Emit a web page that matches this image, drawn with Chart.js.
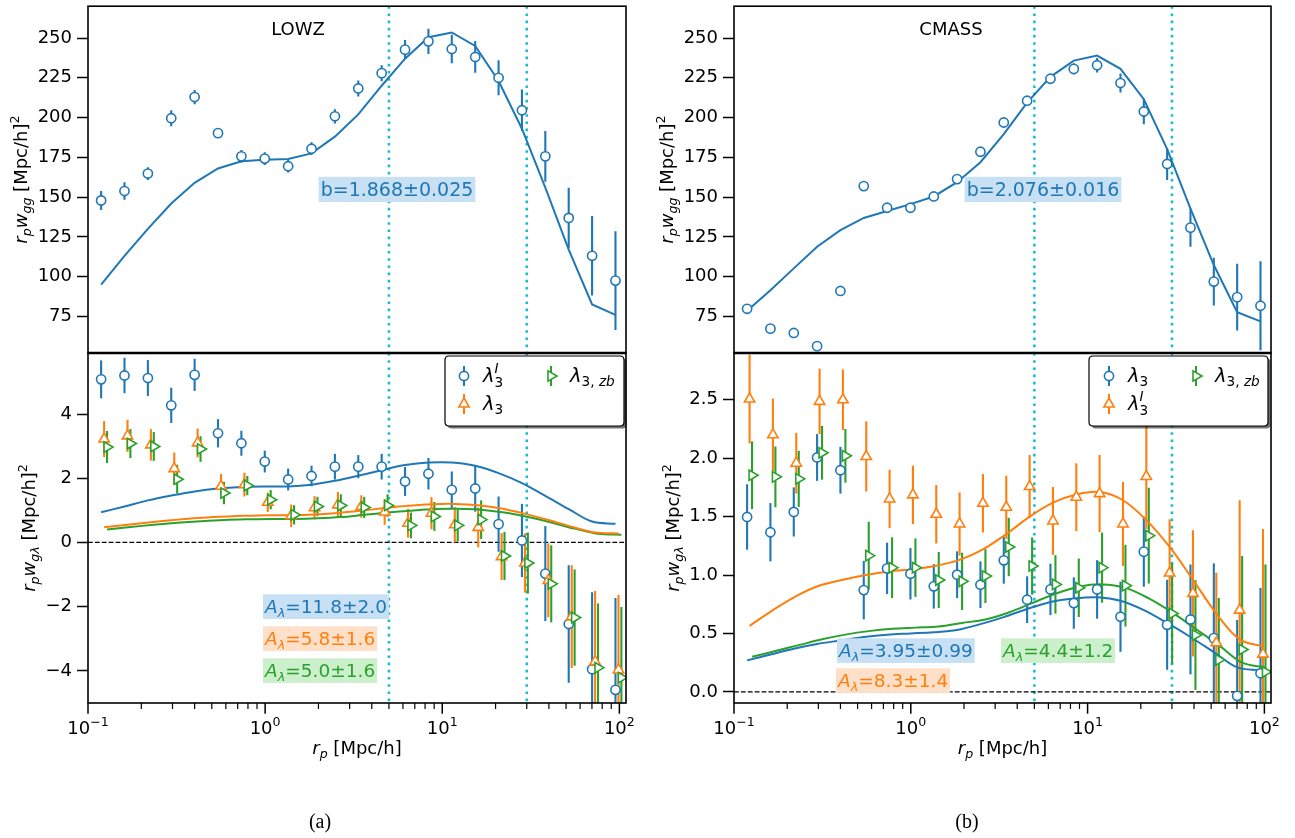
<!DOCTYPE html>
<html><head><meta charset="utf-8">
<script src="https://cdn.jsdelivr.net/npm/chart.js@4.4.1/dist/chart.umd.min.js"></script>
<style>
html,body{margin:0;padding:0;background:#fff;}
#wrap{position:relative;width:1295px;height:838px;overflow:hidden;}
canvas{position:absolute;left:0;top:0;}
</style></head><body>
<div id="wrap">
<canvas id="cTL" width="1295" height="838"></canvas>
<canvas id="cBL" width="1295" height="838"></canvas>
<canvas id="cTR" width="1295" height="838"></canvas>
<canvas id="cBR" width="1295" height="838"></canvas>
</div>
<script>
// ---------------- DATA ----------------
const rp = [0.1186,0.1607,0.2178,0.2951,0.3999,0.5420,0.7345,0.9954,1.349,1.828,2.477,3.357,4.550,6.166,8.356,11.32,15.35,20.80,28.18,38.19,51.76,70.15,95.06];
const xTickDecades = [0.1, 1, 10, 100];
const xTickExp = ['\u22121','0','1','2'];
const scaleCuts = [5, 30];

// LOWZ clustering
const lowzWgg      = [147.9,153.8,164.8,199.6,212.9,190.2,175.6,174.2,169.4,180.4,200.8,218.3,227.9,242.7,247.9,243.1,238.1,225.0,204.6,175.6,136.9,113.1,97.5];
const lowzWggErr   = [6,5.5,4,5,4.5,3,4,4,4,4,4.5,5,5,6,8,9,10,11,13,16,19,25,31];
const lowzWggModel = [95,113,130,146,159,168,172.5,173.5,174,177.5,188,202,220,237,250.5,253.5,245,223,193,156,117,82.5,76];

// CMASS clustering
const cmassWgg      = [79.8,67.3,64.6,56.3,91.0,156.9,143.3,143.3,150.4,161.3,178.5,196.9,210.6,224.4,230.6,232.9,221.7,203.8,170.8,130.8,96.9,87.1,81.7];
const cmassWggErr   = [2.5,1.5,1.5,1.5,1.5,1.5,1.5,1.5,1.5,2,2,2,2.5,3,3.5,4.5,6,8,10,12,15,21,28];
const cmassWggModel = [78.5,91.5,105.2,118.8,129.2,136.9,141.3,145.6,150.4,159.4,171.9,189.6,209.4,225.6,235.8,239.0,230.6,211.5,180.2,142.7,107.3,77.7,71.9];

// LOWZ g-lambda
const lowzLamI      = [5.08,5.20,5.12,4.27,5.22,3.40,3.09,2.52,1.96,2.07,2.36,2.36,2.36,1.90,2.14,1.64,1.68,0.57,0.06,-0.97,-2.54,-3.95,-4.59];
const lowzLamIErr   = [0.59,0.55,0.56,0.55,0.5,0.44,0.39,0.34,0.34,0.32,0.4,0.36,0.4,0.45,0.49,0.57,0.72,0.86,1.14,1.48,1.83,2.4,2.86];
const lowzLam       = [3.22,3.32,3.04,2.30,3.10,1.75,1.80,1.25,0.83,1.08,1.17,1.12,0.95,0.60,0.91,0.55,0.47,-0.44,-0.64,-1.18,-2.31,-3.71,-3.97];
const lowzLamErr    = [0.56,0.5,0.49,0.5,0.45,0.38,0.37,0.3,0.35,0.36,0.4,0.35,0.4,0.45,0.5,0.55,0.62,0.73,0.92,1.15,1.6,2.2,2.34];
const lowzLamZb     = [2.97,3.08,2.99,1.97,2.91,1.54,1.77,1.33,0.86,1.12,1.15,1.09,1.15,0.53,0.81,0.53,0.71,-0.42,-0.64,-1.29,-2.34,-3.90,-4.21];
const lowzLamZbErr  = [0.5,0.45,0.45,0.45,0.4,0.35,0.3,0.3,0.3,0.3,0.35,0.33,0.35,0.4,0.45,0.5,0.6,0.75,0.95,1.2,1.5,2.0,2.2];
const lowzModelI    = [0.94,1.12,1.31,1.46,1.59,1.68,1.73,1.745,1.745,1.80,1.92,2.08,2.25,2.41,2.49,2.49,2.39,2.16,1.85,1.45,1.04,0.65,0.58];
const lowzModel     = [0.47,0.55,0.63,0.70,0.76,0.80,0.83,0.85,0.85,0.87,0.92,0.99,1.07,1.14,1.19,1.20,1.16,1.06,0.89,0.70,0.49,0.31,0.28];
const lowzModelZb   = [0.40,0.48,0.55,0.61,0.66,0.70,0.72,0.73,0.73,0.75,0.79,0.86,0.93,0.99,1.04,1.05,1.02,0.93,0.79,0.62,0.43,0.27,0.24];
const lowzShift     = [1.0, 1.04, 1.08];   // x offsets of the three series

// CMASS g-lambda
const cmassLam      = [1.497,1.366,1.54,2.006,1.897,0.871,1.057,1.011,0.903,1.003,0.917,1.126,0.789,0.877,0.76,0.877,0.643,1.2,0.574,0.62,0.46,-0.034,0.16];
const cmassLamErr   = [0.28,0.25,0.21,0.2,0.2,0.25,0.22,0.22,0.19,0.2,0.2,0.2,0.2,0.22,0.22,0.25,0.3,0.3,0.385,0.47,0.64,0.65,0.73];
const cmassLamI     = [2.506,2.2,1.957,2.486,2.5,2.014,1.651,1.686,1.52,1.437,1.614,1.58,1.757,1.463,1.666,1.697,1.437,1.843,1.017,0.843,0.42,0.70,0.323];
const cmassLamIErr  = [0.38,0.31,0.26,0.28,0.26,0.3,0.25,0.25,0.25,0.27,0.25,0.27,0.27,0.29,0.29,0.33,0.36,0.45,0.46,0.54,0.6,0.94,1.07];
const cmassLamZb    = [1.854,1.84,1.823,2.046,2.02,1.166,1.063,1.063,0.957,0.946,0.991,1.24,1.077,0.92,0.891,1.063,0.909,1.337,0.671,0.486,0.274,0.363,0.171];
const cmassLamZbErr = [0.29,0.26,0.24,0.23,0.23,0.29,0.26,0.25,0.24,0.245,0.23,0.25,0.245,0.25,0.25,0.3,0.35,0.41,0.43,0.47,0.53,0.8,0.92];
const cmassModel    = [0.27,0.32,0.37,0.41,0.44,0.47,0.49,0.50,0.51,0.53,0.58,0.64,0.71,0.77,0.80,0.81,0.78,0.70,0.59,0.47,0.34,0.21,0.185];
const cmassModelI   = [0.565,0.70,0.82,0.91,0.96,1.00,1.03,1.05,1.08,1.13,1.22,1.35,1.50,1.62,1.69,1.71,1.64,1.47,1.24,0.96,0.67,0.45,0.39];
const cmassModelZb  = [0.30,0.35,0.40,0.45,0.49,0.52,0.54,0.55,0.56,0.59,0.62,0.68,0.76,0.84,0.90,0.92,0.89,0.80,0.68,0.54,0.40,0.25,0.21];
const cmassShift    = [1.0, 1.033, 1.067];

// tick values
const yTicksTop  = [75,100,125,150,175,200,225,250];
const yTicksBL   = [-4,-2,0,2,4];
const yTicksBR   = [0,0.5,1,1.5,2,2.5];

// ---------------- STYLE ----------------
const C_BLUE='#1f77b4', C_ORANGE='#ff7f0e', C_GREEN='#2ca02c', C_CYAN='#17becf';
const BOX = {blue:'#c8e0f4', orange:'#fedfc8', green:'#ccf0cc'};
const FAM = '"DejaVu Sans"';
const FS = 18;
const W=1295, H=838;
const colL={left:88,right:626}, colR={left:734,right:1271};
const rowT={top:2,bottom:353}, rowB={top:353,bottom:703};
Chart.defaults.font.family = 'DejaVu Sans';

// ---------------- RICH TEXT ----------------
function segItems(ctx, segs, fs){
  const items=[];
  for(const s of segs){
    if(Array.isArray(s)){
      const [t,st]=s;
      const it=st.includes('i'), sub=st.includes('_'), sup=st.includes('^');
      const size=(sub||sup)?fs*0.7:fs;
      const font=(it?'italic ':'')+size.toFixed(2)+'px '+FAM;
      ctx.font=font;
      items.push({parts:[{t,font,dy:sub?fs*0.22:(sup?-fs*0.42:0)}],w:ctx.measureText(t).width});
    } else {
      const size=fs*0.7;
      const f1=(s.subI?'italic ':'')+size.toFixed(2)+'px '+FAM;
      const f2=(s.supI?'italic ':'')+size.toFixed(2)+'px '+FAM;
      ctx.font=f1; const w1=ctx.measureText(s.sub).width;
      ctx.font=f2; const w2=ctx.measureText(s.sup).width;
      items.push({parts:[{t:s.sub,font:f1,dy:fs*0.24},{t:s.sup,font:f2,dy:-fs*0.45}],w:Math.max(w1,w2)});
    }
  }
  return items;
}
function drawRich(ctx, segs, x, y, fs, align, color, box){
  const items=segItems(ctx,segs,fs);
  const total=items.reduce((a,b)=>a+b.w,0);
  let cx = align==='center'? x-total/2 : (align==='right'? x-total : x);
  if(box){
    ctx.fillStyle=box;
    ctx.fillRect(cx-2, y-0.93*fs-1.5, total+4, 1.17*fs+3);
  }
  ctx.fillStyle=color; ctx.textAlign='left'; ctx.textBaseline='alphabetic';
  for(const it of items){ for(const p of it.parts){ ctx.font=p.font; ctx.fillText(p.t,cx,y+p.dy);} cx+=it.w; }
}

function marker(ctx, kind, x, y, color){
  ctx.save();
  ctx.strokeStyle=color; ctx.fillStyle='#fff'; ctx.lineWidth=1.6;
  ctx.beginPath();
  if(kind==='circle'){ ctx.arc(x,y,4.6,0,Math.PI*2); }
  else {
    const r=6, rot = kind==='triR'? Math.PI/2 : 0;
    for(let k=0;k<3;k++){ const a=rot+k*2*Math.PI/3; const px=x+Math.sin(a)*r, py=y-Math.cos(a)*r; k?ctx.lineTo(px,py):ctx.moveTo(px,py);}
    ctx.closePath();
  }
  ctx.fill(); ctx.stroke(); ctx.restore();
}

function roundRect(ctx,x0,y0,x1,y1,r){
  ctx.beginPath();
  ctx.moveTo(x0+r,y0); ctx.lineTo(x1-r,y0); ctx.quadraticCurveTo(x1,y0,x1,y0+r);
  ctx.lineTo(x1,y1-r); ctx.quadraticCurveTo(x1,y1,x1-r,y1);
  ctx.lineTo(x0+r,y1); ctx.quadraticCurveTo(x0,y1,x0,y1-r);
  ctx.lineTo(x0,y0+r); ctx.quadraticCurveTo(x0,y0,x0+r,y0); ctx.closePath();
}

function drawLegend(ctx, L){
  ctx.save();
  roundRect(ctx,L.x0+2.5,L.y0+2.5,L.x1+2.5,L.y1+2.5,4);
  ctx.fillStyle='rgba(0,0,0,0.55)'; ctx.fill();
  roundRect(ctx,L.x0,L.y0,L.x1,L.y1,4);
  ctx.fillStyle='#fff'; ctx.fill();
  ctx.strokeStyle='#000'; ctx.lineWidth=1.2; ctx.stroke();
  for(const it of L.items){
    ctx.strokeStyle=it.color; ctx.lineWidth=2;
    ctx.beginPath(); ctx.moveTo(it.x,it.y-10); ctx.lineTo(it.x,it.y+10); ctx.stroke();
    marker(ctx,it.kind,it.x,it.y,it.color);
    drawRich(ctx,it.label,it.x+19,it.y+6,19.5,'left','#000');
  }
  ctx.restore();
}

// ---------------- PANEL PLUGIN ----------------
function panelPlugin(id, P){
  return {
    id,
    beforeDatasetsDraw(chart){
      const {ctx, chartArea:a, scales:{x,y}}=chart;
      ctx.save();
      ctx.beginPath(); ctx.rect(a.left,a.top,a.right-a.left,a.bottom-a.top); ctx.clip();
      ctx.strokeStyle=C_CYAN; ctx.lineWidth=2.6; ctx.setLineDash([2.6,4.6]);
      for(const v of scaleCuts){ const px=x.getPixelForValue(v); ctx.beginPath(); ctx.moveTo(px,a.top); ctx.lineTo(px,a.bottom); ctx.stroke(); }
      if(P.zero){
        ctx.strokeStyle='#000'; ctx.lineWidth=1.3; ctx.setLineDash([4.8,2.1]);
        const py=y.getPixelForValue(0);
        ctx.beginPath(); ctx.moveTo(a.left,py); ctx.lineTo(a.right,py); ctx.stroke();
      }
      ctx.setLineDash([]);
      chart.data.datasets.forEach(ds=>{
        if(!ds.yerr) return;
        ctx.strokeStyle=ds.borderColor; ctx.lineWidth=2.1;
        ds.data.forEach((p,i)=>{
          const px=x.getPixelForValue(p.x);
          ctx.beginPath();
          ctx.moveTo(px,y.getPixelForValue(p.y-ds.yerr[i]));
          ctx.lineTo(px,y.getPixelForValue(p.y+ds.yerr[i]));
          ctx.stroke();
        });
      });
      ctx.restore();
    },
    afterDatasetsDraw(chart){
      const {ctx}=chart;
      ctx.save();
      for(const t of (P.texts||[])) drawRich(ctx,t.segs,t.x,t.y,t.fs,t.align,t.color,t.box);
      if(P.legend) drawLegend(ctx,P.legend);
      ctx.restore();
    },
    afterDraw(chart){
      const {ctx, chartArea:a, scales:{x}}=chart;
      ctx.save();
      ctx.strokeStyle='#000'; ctx.lineWidth=1.6;
      ctx.strokeRect(a.left,a.top,a.right-a.left,a.bottom-a.top);
      if(P.xaxis){
        ctx.lineWidth=2.4; ctx.beginPath(); ctx.moveTo(a.left,a.top); ctx.lineTo(a.right,a.top); ctx.stroke();
        for(let d=0; d<xTickDecades.length; d++){
          for(let m=1;m<=9;m++){
            const v=xTickDecades[d]*m;
            if(v>x.max) break;
            const px=x.getPixelForValue(v);
            ctx.lineWidth = m===1?1.5:1.2;
            ctx.beginPath(); ctx.moveTo(px,a.bottom); ctx.lineTo(px,a.bottom+(m===1?10.7:6)); ctx.stroke();
          }
          const px=x.getPixelForValue(xTickDecades[d]);
          const f1=FS+'px '+FAM, f2=(FS*0.7).toFixed(1)+'px '+FAM;
          ctx.font=f1; const w1=ctx.measureText('10').width;
          ctx.font=f2; const w2=ctx.measureText(xTickExp[d]).width;
          const sx=px-(w1+w2)/2;
          ctx.fillStyle='#000'; ctx.textAlign='left'; ctx.textBaseline='alphabetic';
          ctx.font=f1; ctx.fillText('10',sx,733.5);
          ctx.font=f2; ctx.fillText(xTickExp[d],sx+w1,725.5);
        }
        drawRich(ctx,[['r','i'],['p','i_'],[' [Mpc/h]','n']],(a.left+a.right)/2,754,FS,'center','#000');
      }
      if(P.ylabel){
        ctx.save();
        ctx.translate(P.ylabel.x,(a.top+a.bottom)/2);
        ctx.rotate(-Math.PI/2);
        drawRich(ctx,P.ylabel.segs,0,0,FS,'center','#000');
        ctx.restore();
      }
      if(P.caption){
        ctx.fillStyle='#000'; ctx.font='20px "Liberation Serif"'; ctx.textAlign='center'; ctx.textBaseline='alphabetic';
        ctx.fillText(P.caption.t,P.caption.x,828);
      }
      ctx.restore();
    }
  };
}

// ---------------- CHART BUILDER ----------------
function pts(xs, ys, f){ return xs.map((v,i)=>({x:v*f, y:ys[i]})); }
function lineDs(xs, ys, f, color, smooth){
  return {type:'line', data:pts(xs,ys,f), borderColor:color, borderWidth:2, pointRadius:0, fill:false, tension:smooth?0.35:0, order:10};
}
function ptDs(xs, ys, err, f, color, kind, order){
  return {type:'scatter', data:pts(xs,ys,f), yerr:err, borderColor:color, backgroundColor:'#fff',
    pointStyle: kind==='circle'?'circle':'triangle', pointRotation: kind==='triR'?90:0,
    pointRadius: kind==='circle'?4.6:6, pointBorderWidth:1.6, pointHoverRadius:0, order};
}
const fmtMinus = v => v<0 ? '\u2212'+Math.abs(v) : String(v);
const fmt1 = v => Number(v).toFixed(1);

function makeChart(id, col, row, yMin, yMax, yTicks, fmt, datasets, P){
  return new Chart(document.getElementById(id), {
    type:'scatter',
    data:{datasets},
    options:{
      responsive:false, animation:false, devicePixelRatio:1, events:[],
      layout:{padding:{left:col.left-88, right:W-col.right, top:row.top, bottom:H-row.bottom}},
      plugins:{legend:{display:false}, tooltip:{enabled:false}},
      scales:{
        x:{type:'logarithmic', display:false, min:0.1, max:109},
        y:{type:'linear', position:'left', min:yMin, max:yMax,
          afterFit(s){ s.width=88; s.paddingTop=0; s.paddingBottom=0; },
          afterBuildTicks(s){ s.ticks=yTicks.map(v=>({value:v})); },
          ticks:{font:{family:'DejaVu Sans', size:FS}, color:'#000', padding:5, autoSkip:false, callback:fmt},
          grid:{display:true, drawOnChartArea:false, drawTicks:true, tickLength:11, tickWidth:1.5, tickColor:'#000'},
          border:{display:false}}
      }
    },
    plugins:[panelPlugin('p'+id,P)]
  });
}

const YL_TOP=[['r','i'],['p','i_'],['w','i'],['gg','i_'],[' [Mpc/h]','n'],['2','^']];
const YL_BOT=[['r','i'],['p','i_'],['w','i'],['g\u03bb','i_'],[' [Mpc/h]','n'],['2','^']];
const LAM_I=[['\u03bb','i'],{sub:'3',sup:'I',supI:true}];
const LAM=[['\u03bb','i'],['3','_']];
const LAM_ZB=[['\u03bb','i'],['3, ','_'],['zb','i_']];
const A = s => [['A','i'],['\u03bb','i_'],[s,'n']];

// Top-left LOWZ
makeChart('cTL', colL, rowT, 52, 270, yTicksTop, v=>String(v), [
  ptDs(rp, lowzWgg, lowzWggErr, 1, C_BLUE, 'circle', 1),
  lineDs(rp, lowzWggModel, 1, C_BLUE, false)
], {
  texts:[
    {segs:[['LOWZ','n']], x:298, y:34.5, fs:FS, align:'center', color:'#000'},
    {segs:[['b=1.868\u00b10.025','n']], x:397, y:196, fs:19, align:'center', color:C_BLUE, box:BOX.blue}
  ],
  ylabel:{segs:YL_TOP, x:27}
});

// Bottom-left LOWZ
makeChart('cBL', colL, rowB, -5.0, 5.9, yTicksBL, fmtMinus, [
  lineDs(rp, lowzModelI, lowzShift[0], C_BLUE, true),
  lineDs(rp, lowzModel, lowzShift[1], C_ORANGE, true),
  lineDs(rp, lowzModelZb, lowzShift[2], C_GREEN, true),
  ptDs(rp, lowzLamI, lowzLamIErr, lowzShift[0], C_BLUE, 'circle', 3),
  ptDs(rp, lowzLam, lowzLamErr, lowzShift[1], C_ORANGE, 'triU', 2),
  ptDs(rp, lowzLamZb, lowzLamZbErr, lowzShift[2], C_GREEN, 'triR', 1)
], {
  zero:true, xaxis:true,
  texts:[
    {segs:A('=11.8\u00b12.0'), x:265, y:613, fs:18.5, align:'left', color:C_BLUE, box:BOX.blue},
    {segs:A('=5.8\u00b11.6'), x:265, y:645, fs:18.5, align:'left', color:C_ORANGE, box:BOX.orange},
    {segs:A('=5.0\u00b11.6'), x:265, y:677, fs:18.5, align:'left', color:C_GREEN, box:BOX.green}
  ],
  legend:{x0:445,y0:356,x1:624,y1:426, items:[
    {x:464,y:376,kind:'circle',color:C_BLUE,label:LAM_I},
    {x:464,y:404,kind:'triU',color:C_ORANGE,label:LAM},
    {x:551,y:376,kind:'triR',color:C_GREEN,label:LAM_ZB}
  ]},
  ylabel:{segs:YL_BOT, x:35},
  caption:{t:'(a)', x:320}
});

// Top-right CMASS
makeChart('cTR', colR, rowT, 52, 270, yTicksTop, v=>String(v), [
  ptDs(rp, cmassWgg, cmassWggErr, 1, C_BLUE, 'circle', 1),
  lineDs(rp, cmassWggModel, 1, C_BLUE, false)
], {
  texts:[
    {segs:[['CMASS','n']], x:951, y:34.5, fs:FS, align:'center', color:'#000'},
    {segs:[['b=2.076\u00b10.016','n']], x:1043, y:196, fs:19, align:'center', color:C_BLUE, box:BOX.blue}
  ],
  ylabel:{segs:YL_TOP, x:673}
});

// Bottom-right CMASS
makeChart('cBR', colR, rowB, -0.095, 2.9, yTicksBR, fmt1, [
  lineDs(rp, cmassModel, cmassShift[0], C_BLUE, true),
  lineDs(rp, cmassModelI, cmassShift[1], C_ORANGE, true),
  lineDs(rp, cmassModelZb, cmassShift[2], C_GREEN, true),
  ptDs(rp, cmassLam, cmassLamErr, cmassShift[0], C_BLUE, 'circle', 3),
  ptDs(rp, cmassLamI, cmassLamIErr, cmassShift[1], C_ORANGE, 'triU', 2),
  ptDs(rp, cmassLamZb, cmassLamZbErr, cmassShift[2], C_GREEN, 'triR', 1)
], {
  zero:true, xaxis:true,
  texts:[
    {segs:A('=3.95\u00b10.99'), x:839, y:657, fs:18.5, align:'left', color:C_BLUE, box:BOX.blue},
    {segs:A('=4.4\u00b11.2'), x:1003, y:657, fs:18.5, align:'left', color:C_GREEN, box:BOX.green},
    {segs:A('=8.3\u00b11.4'), x:838, y:687, fs:18.5, align:'left', color:C_ORANGE, box:BOX.orange}
  ],
  legend:{x0:1089,y0:356,x1:1268,y1:426, items:[
    {x:1109,y:376,kind:'circle',color:C_BLUE,label:LAM},
    {x:1109,y:404,kind:'triU',color:C_ORANGE,label:LAM_I},
    {x:1196,y:376,kind:'triR',color:C_GREEN,label:LAM_ZB}
  ]},
  ylabel:{segs:YL_BOT, x:679},
  caption:{t:'(b)', x:967}
});
</script>
</body></html>
